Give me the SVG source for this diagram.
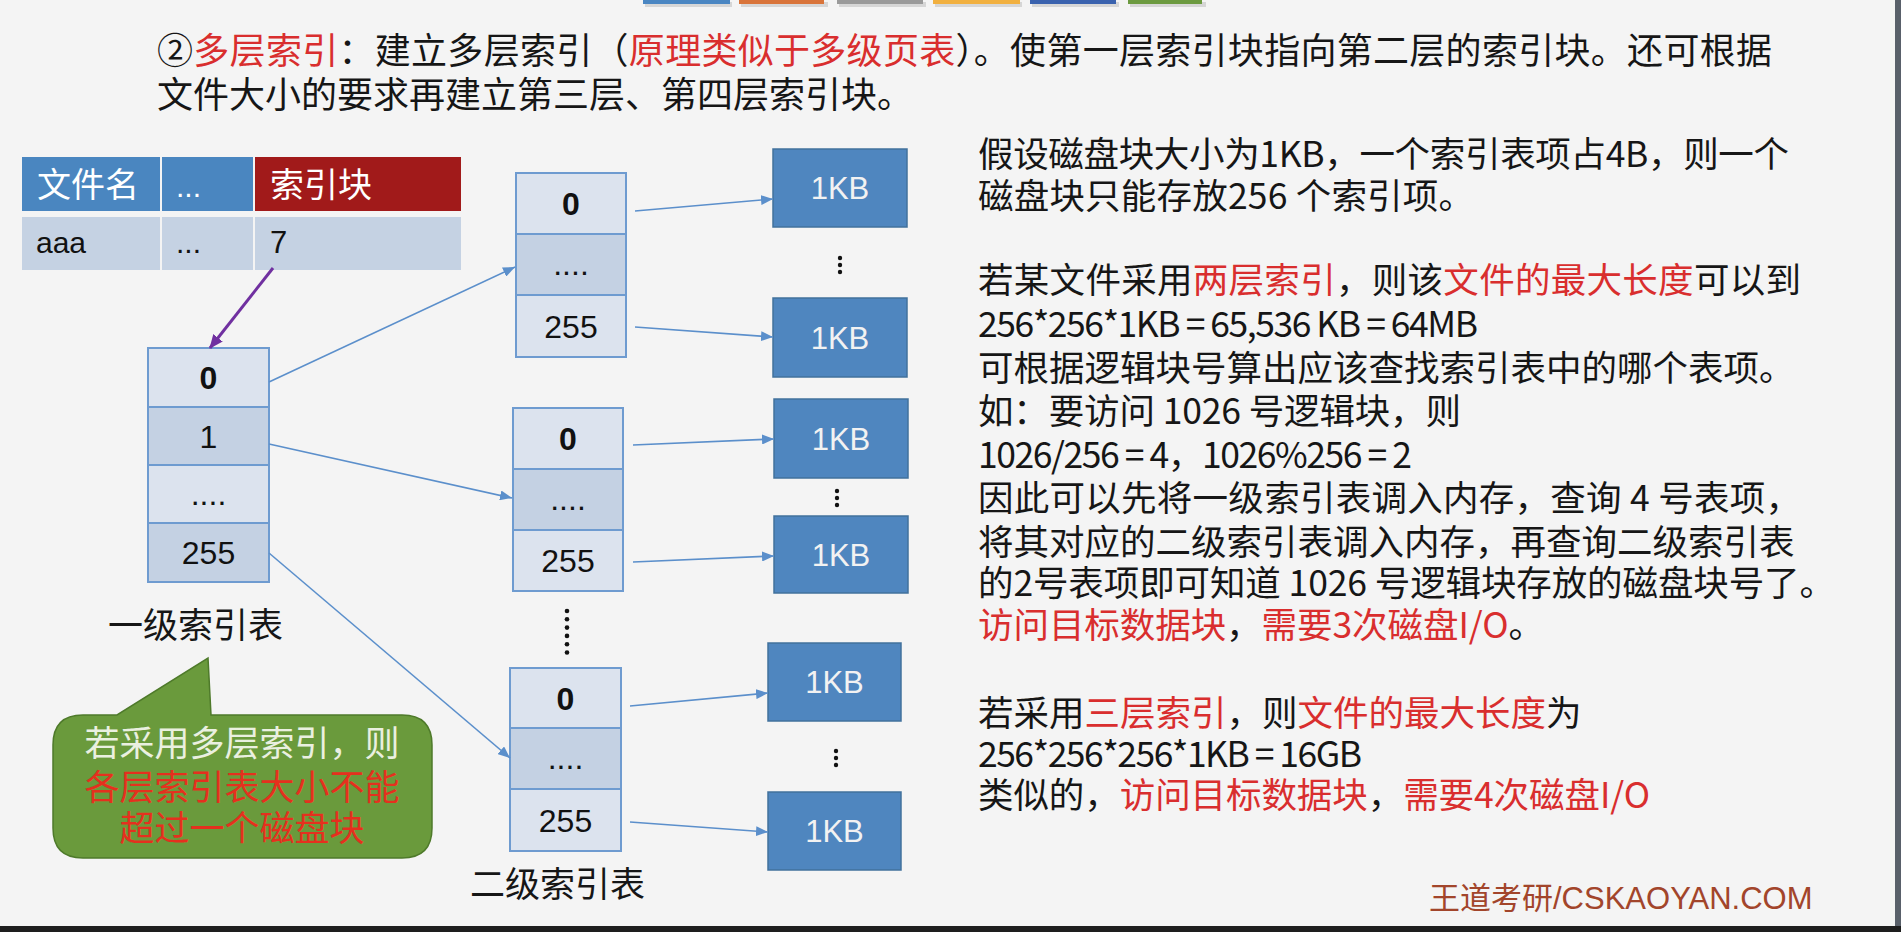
<svg xmlns="http://www.w3.org/2000/svg" width="1901" height="932" viewBox="0 0 1901 932">
<defs>
<style>
.cjk{font-family:"Noto Sans CJK SC","Noto Sans CJK JP",sans-serif}
.lat{font-family:"Liberation Sans","Noto Sans CJK SC",sans-serif}
.red{fill:#D92E2E}
.blk{fill:#161616}
.conn{stroke:#5B8FCB;stroke-width:1.6;fill:none;marker-end:url(#ah)}
.cellL{fill:#DCE3EE;stroke:#6E9BD0;stroke-width:2}
.cellD{fill:#C4D1E3;stroke:#6E9BD0;stroke-width:2}
.kb{fill:#4F86BF;stroke:#41719C;stroke-width:1.5}
.kbt{fill:#F2F2F2;font-size:31px;text-anchor:middle}
.idx{font-size:32px;text-anchor:middle;fill:#111}
.bold{font-weight:bold}
.dot{fill:#111}
.rt{font-size:35.5px}
</style>
<marker id="ah" viewBox="0 0 12 10" refX="12" refY="5" markerWidth="12" markerHeight="10" markerUnits="userSpaceOnUse" orient="auto">
<path d="M0,0 L12,5 L0,10 z" fill="#5B8FCB"/>
</marker>
<marker id="ahp" viewBox="0 0 14 12" refX="13" refY="6" markerWidth="14" markerHeight="12" markerUnits="userSpaceOnUse" orient="auto">
<path d="M0,0 L14,6 L0,12 z" fill="#7030A0"/>
</marker>
</defs>

<rect x="0" y="0" width="1901" height="932" fill="#F4F4F4"/>
<rect x="1895" y="0" width="6" height="932" fill="#59606A"/>
<rect x="0" y="926" width="1901" height="6" fill="#1E1E1E"/>

<g id="topbars">
<rect x="645" y="2" width="87" height="5" fill="#000" opacity="0.12"/>
<rect x="741" y="2" width="87" height="5" fill="#000" opacity="0.12"/>
<rect x="839" y="2" width="87" height="5" fill="#000" opacity="0.12"/>
<rect x="935" y="2" width="87" height="5" fill="#000" opacity="0.12"/>
<rect x="1032" y="2" width="87" height="5" fill="#000" opacity="0.12"/>
<rect x="1130" y="2" width="76" height="5" fill="#000" opacity="0.12"/>
<rect x="643" y="0" width="87" height="4" fill="#4A86C2"/>
<rect x="739" y="0" width="85" height="4" fill="#D9743A"/>
<rect x="837" y="0" width="86" height="4" fill="#9A9A9A"/>
<rect x="933" y="0" width="87" height="4" fill="#F1B040"/>
<rect x="1030" y="0" width="86" height="4" fill="#3A62AE"/>
<rect x="1128" y="0" width="74" height="4" fill="#6C9A40"/>
</g>

<g id="title" class="cjk" font-size="36">
<text x="157" y="64" class="blk" textLength="1615">②<tspan class="red">多层索引</tspan>：建立多层索引（<tspan class="red">原理类似于多级页表</tspan>）。使第一层索引块指向第二层的索引块。还可根据</text>
<text x="157" y="108" class="blk">文件大小的要求再建立第三层、第四层索引块。</text>
</g>

<g id="fcb">
<rect x="22" y="157" width="138" height="54" fill="#4A86C0"/>
<rect x="162" y="157" width="91" height="54" fill="#4A86C0"/>
<rect x="255" y="157" width="206" height="54" fill="#A11A1A"/>
<rect x="22" y="217" width="138" height="53" fill="#C5D2E3"/>
<rect x="162" y="217" width="91" height="53" fill="#C5D2E3"/>
<rect x="255" y="217" width="206" height="53" fill="#C5D2E3"/>
<text x="37" y="197" class="cjk" font-size="34" fill="#FFFFFF">文件名</text>
<text x="176" y="197" class="lat" font-size="30" fill="#FFFFFF">...</text>
<text x="270" y="197" class="cjk" font-size="34" fill="#FFFFFF">索引块</text>
<text x="36" y="253" class="lat" font-size="30" fill="#111">aaa</text>
<text x="176" y="253" class="lat" font-size="30" fill="#111">...</text>
<text x="270" y="253" class="lat" font-size="31" fill="#111">7</text>
</g>

<g id="level1">
<rect x="148" y="348" width="121" height="59" class="cellL"/>
<rect x="148" y="407" width="121" height="58" class="cellD"/>
<rect x="148" y="465" width="121" height="58" class="cellL"/>
<rect x="148" y="523" width="121" height="59" class="cellD"/>
<text x="208.5" y="389" class="lat idx bold">0</text>
<text x="208.5" y="448" class="lat idx">1</text>
<text x="208.5" y="505" class="lat idx">....</text>
<text x="208.5" y="564" class="lat idx">255</text>
<text x="108" y="638" class="cjk" font-size="35" fill="#161616">一级索引表</text>
</g>

<g id="callout">
<path d="M83,715 L117,715 L208,658 L211,715 L402,715 Q432,715 432,745 L432,828 Q432,858 402,858 L83,858 Q53,858 53,828 L53,745 Q53,715 83,715 Z" fill="#6A9A3C" stroke="#4E7A2A" stroke-width="1.5"/>
<text x="242" y="756" class="cjk" font-size="35" fill="#EAF0E0" text-anchor="middle">若采用多层索引，则</text>
<text x="242" y="800" class="cjk" font-size="35" fill="#E5301E" text-anchor="middle">各层索引表大小不能</text>
<text x="242" y="841" class="cjk" font-size="35" fill="#E5301E" text-anchor="middle">超过一个磁盘块</text>
</g>

<g id="level2a">
<rect x="516" y="173" width="110" height="61" class="cellL"/>
<rect x="516" y="234" width="110" height="61" class="cellD"/>
<rect x="516" y="295" width="110" height="62" class="cellL"/>
<text x="571" y="215" class="lat idx bold">0</text>
<text x="571" y="275" class="lat idx">....</text>
<text x="571" y="338" class="lat idx">255</text>
</g>

<g id="level2b">
<rect x="513" y="408" width="110" height="61" class="cellL"/>
<rect x="513" y="469" width="110" height="61" class="cellD"/>
<rect x="513" y="530" width="110" height="61" class="cellL"/>
<text x="568" y="450" class="lat idx bold">0</text>
<text x="568" y="510" class="lat idx">....</text>
<text x="568" y="572" class="lat idx">255</text>
</g>

<g id="level2dots">
<circle cx="567" cy="611" r="2.3" class="dot"/>
<circle cx="567" cy="619.3" r="2.3" class="dot"/>
<circle cx="567" cy="627.6" r="2.3" class="dot"/>
<circle cx="567" cy="635.9" r="2.3" class="dot"/>
<circle cx="567" cy="644.2" r="2.3" class="dot"/>
<circle cx="567" cy="652.5" r="2.3" class="dot"/>
</g>

<g id="level2c">
<rect x="510" y="668" width="111" height="60" class="cellL"/>
<rect x="510" y="728" width="111" height="61" class="cellD"/>
<rect x="510" y="789" width="111" height="62" class="cellL"/>
<text x="565.5" y="710" class="lat idx bold">0</text>
<text x="565.5" y="769" class="lat idx">....</text>
<text x="565.5" y="832" class="lat idx">255</text>
<text x="470" y="897" class="cjk" font-size="35" fill="#161616">二级索引表</text>
</g>

<g id="kb1"><rect x="773" y="149" width="134" height="78" class="kb"/><text x="840" y="199" class="lat kbt">1KB</text></g>
<g id="kb2"><rect x="773" y="298" width="134" height="79" class="kb"/><text x="840" y="349" class="lat kbt">1KB</text></g>
<g id="kb3"><rect x="774" y="399" width="134" height="79" class="kb"/><text x="841" y="450" class="lat kbt">1KB</text></g>
<g id="kb4"><rect x="774" y="516" width="134" height="77" class="kb"/><text x="841" y="566" class="lat kbt">1KB</text></g>
<g id="kb5"><rect x="768" y="643" width="133" height="78" class="kb"/><text x="834.5" y="693" class="lat kbt">1KB</text></g>
<g id="kb6"><rect x="768" y="792" width="133" height="78" class="kb"/><text x="834.5" y="842" class="lat kbt">1KB</text></g>

<g id="kbdots">
<circle cx="840" cy="258" r="2.2" class="dot"/><circle cx="840" cy="265" r="2.2" class="dot"/><circle cx="840" cy="272" r="2.2" class="dot"/>
<circle cx="837" cy="491" r="2.2" class="dot"/><circle cx="837" cy="498" r="2.2" class="dot"/><circle cx="837" cy="505" r="2.2" class="dot"/>
<circle cx="836" cy="751" r="2.2" class="dot"/><circle cx="836" cy="758" r="2.2" class="dot"/><circle cx="836" cy="765" r="2.2" class="dot"/>
</g>

<g id="connectors">
<line x1="273" y1="268" x2="210" y2="348" stroke="#7030A0" stroke-width="3" marker-end="url(#ahp)"/>
<line x1="269" y1="382" x2="515" y2="267" class="conn"/>
<line x1="269" y1="444" x2="512" y2="498" class="conn"/>
<line x1="269" y1="553" x2="510" y2="758" class="conn"/>
<line x1="635" y1="211" x2="773" y2="199" class="conn"/>
<line x1="635" y1="327" x2="773" y2="337" class="conn"/>
<line x1="633" y1="445" x2="774" y2="439" class="conn"/>
<line x1="633" y1="562" x2="774" y2="556" class="conn"/>
<line x1="630" y1="706" x2="768" y2="693" class="conn"/>
<line x1="630" y1="822" x2="768" y2="832" class="conn"/>
</g>

<g id="explain" class="cjk rt blk">
<text x="978" y="167" textLength="811">假设磁盘块大小为1KB，一个索引表项占4B，则一个</text>
<text x="978" y="209" textLength="496">磁盘块只能存放256 个索引项。</text>
<text x="978" y="293" textLength="823">若某文件采用<tspan class="red">两层索引</tspan>，则该<tspan class="red">文件的最大长度</tspan>可以到</text>
<text x="978" y="337" textLength="500">256*256*1KB = 65,536 KB = 64MB</text>
<text x="978" y="381">可根据逻辑块号算出应该查找索引表中的哪个表项。</text>
<text x="978" y="424" textLength="483">如：要访问 1026 号逻辑块，则</text>
<text x="978" y="468" textLength="434">1026/256 = 4，1026%256 = 2</text>
<text x="978" y="511" textLength="823">因此可以先将一级索引表调入内存，查询 4 号表项，</text>
<text x="978" y="555">将其对应的二级索引表调入内存，再查询二级索引表</text>
<text x="978" y="596" textLength="857">的2号表项即可知道 1026 号逻辑块存放的磁盘块号了。</text>
<text x="978" y="638" textLength="566"><tspan class="red">访问目标数据块</tspan>，<tspan class="red">需要3次磁盘I/O</tspan>。</text>
<text x="978" y="726">若采用<tspan class="red">三层索引</tspan>，则<tspan class="red">文件的最大长度</tspan>为</text>
<text x="978" y="767" textLength="384">256*256*256*1KB = 16GB</text>
<text x="978" y="808" textLength="672">类似的，<tspan class="red">访问目标数据块</tspan>，<tspan class="red">需要4次磁盘I/O</tspan></text>
</g>

<g id="watermark">
<text x="1429" y="909" class="lat" font-size="31" fill="#A2452B">王道考研/CSKAOYAN.COM</text>
</g>
</svg>
